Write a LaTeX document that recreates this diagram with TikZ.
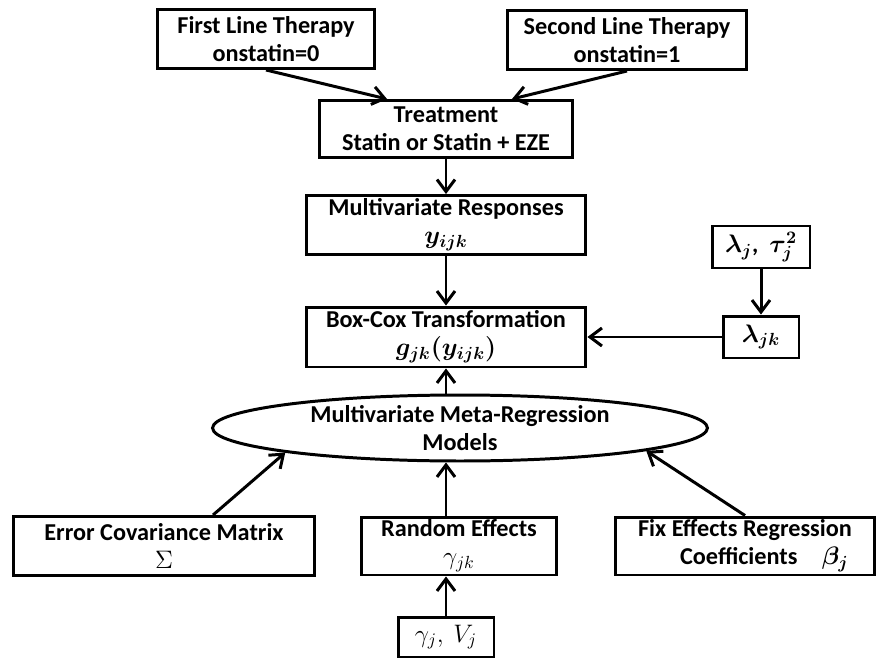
\documentclass[tikz,border=0pt]{standalone}
\usepackage{fontspec}
\setmainfont{Carlito}
\usepackage{bm}
\usetikzlibrary{arrows.meta,shapes.geometric}

\begin{document}
\begin{tikzpicture}[x=0.02cm,y=-0.02cm,>={Straight Barb[length=2.4mm,width=3.6mm]},line width=1.7pt,
  box/.style={draw,rectangle,align=center,inner sep=1pt,font=\fontsize{13.8}{16}\selectfont\bfseries},
  oval/.style={draw,ellipse,align=center,inner sep=0pt,font=\fontsize{13.8}{16}\selectfont\bfseries}]

\useasboundingbox (0,0) rectangle (876,659);

\node[box,minimum width=4.36cm,minimum height=1.18cm] (first) at (266,39) {First Line Therapy\\onstatin=0};
\node[box,minimum width=4.8cm,minimum height=1.18cm] (second) at (627,40) {Second Line Therapy\\onstatin=1};
\node[box,minimum width=5.06cm,minimum height=1.14cm] (treat) at (446,129) {Treatment\\Statin or Statin + EZE};
\node[box,minimum width=5.6cm,minimum height=1.18cm] (mr) at (446,225) {Multivariate Responses\\$\bm{y_{ijk}}$};
\node[box,minimum width=5.6cm,minimum height=1.2cm] (bc) at (446,337) {Box-Cox Transformation\\$\bm{g_{jk}(y_{ijk})}$};
\node[box,minimum width=1.96cm,minimum height=0.84cm] (lt) at (761,247) {$\bm{\lambda_j}$,\ \ $\bm{\tau_j^2}$};
\node[box,minimum width=1.52cm,minimum height=0.84cm] (ljk) at (761,337) {$\bm{\lambda_{jk}}$};
\node[oval,minimum width=9.9cm,minimum height=1.32cm] (ell) at (460,428) {Multivariate Meta-Regression\\Models};
\node[box,minimum width=6.04cm,minimum height=1.18cm] (err) at (164,546) {Error Covariance Matrix\\$\Sigma$};
\node[box,minimum width=3.9cm,minimum height=1.16cm] (re) at (459,546) {Random Effects\\$\gamma_{jk}$};
\node[box,minimum width=5.2cm,minimum height=1.16cm] (fix) at (745,546) {Fix Effects Regression\\\hspace{1.6em}Coefficients\quad$\bm{\beta_j}$};
\node[box,minimum width=1.92cm,minimum height=0.8cm] (gv) at (446,637) {$\gamma_j,\ V_j$};

\draw[->] (first.south) -- ([xshift=1.38cm]treat.north west);
\draw[->] (second.south) -- ([xshift=-1.24cm]treat.north east);
\draw[->] (treat) -- (mr);
\draw[->] (mr) -- (bc);
\draw[->] (lt) -- (ljk);
\draw[->] (ljk) -- (bc);
\draw[->] (bc.south |- ell.north) -- (bc.south);
\draw[->] ([xshift=0.98cm]err.north) -- (ell.188);
\draw[->] (fix.north) -- (ell.353);
\draw[->] (gv.north |- re.north) -- (gv.north |- ell.south);
\draw[->] (gv) -- (gv |- re.south);

\end{tikzpicture}
\end{document}
